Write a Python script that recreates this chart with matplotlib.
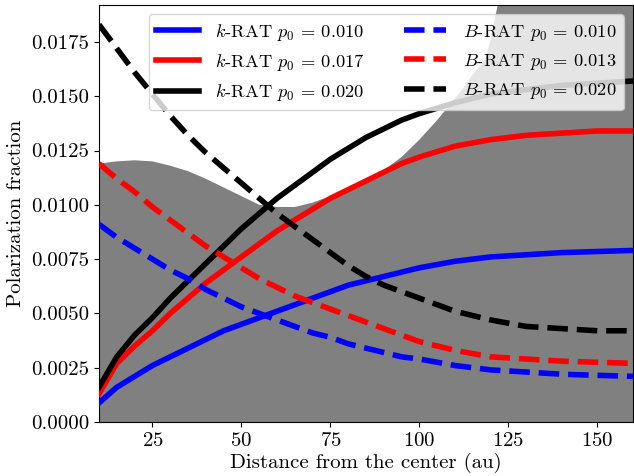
import numpy as np
import matplotlib
matplotlib.use("Agg")
import matplotlib.pyplot as plt

plt.rcParams.update({"font.family": "serif", "font.serif": ["cmr10"], "mathtext.fontset": "cm",
                     "axes.formatter.use_mathtext": True, "font.size": 15})

# distance from the center (au)
r = [10, 15, 20, 25, 30, 35, 40, 45, 50, 55, 60, 65, 70, 75, 80, 85, 90, 95, 100,
     110, 120, 130, 140, 150, 160]

# k-RAT curves
k010 = [0.00088, 0.0016, 0.0021, 0.0026, 0.0030, 0.0034, 0.0038, 0.0042, 0.0045, 0.0048, 0.0051,
        0.0054, 0.0057, 0.0060, 0.0063, 0.0065, 0.0067, 0.0069, 0.0071,
        0.0074, 0.0076, 0.0077, 0.0078, 0.00785, 0.0079]
k017 = [0.0013, 0.0027, 0.0035, 0.0042, 0.0050, 0.0057, 0.0064, 0.0070, 0.0076, 0.0082, 0.0088,
        0.0093, 0.0098, 0.0103, 0.0107, 0.0111, 0.0115, 0.0119, 0.0122,
        0.0127, 0.0130, 0.0132, 0.0133, 0.0134, 0.0134]
k020 = [0.0016, 0.0030, 0.0040, 0.0048, 0.0057, 0.0065, 0.0073, 0.0081, 0.0089, 0.0096, 0.0103,
        0.0109, 0.0115, 0.0121, 0.0126, 0.0131, 0.0135, 0.0139, 0.0142,
        0.0147, 0.0151, 0.0153, 0.0155, 0.0156, 0.0157]

# B-RAT curves
b010 = [0.0091, 0.0085, 0.0080, 0.0075, 0.0070, 0.0066, 0.0061, 0.0057, 0.0053, 0.0050, 0.0047,
        0.0044, 0.0041, 0.0039, 0.0036, 0.0034, 0.0032, 0.0030, 0.0029,
        0.0026, 0.0024, 0.0023, 0.0022, 0.00215, 0.0021]
b013 = [0.0119, 0.0112, 0.0106, 0.0099, 0.0093, 0.0087, 0.0081, 0.0076, 0.0071, 0.0066, 0.0062,
        0.0058, 0.0055, 0.0052, 0.0049, 0.0046, 0.0043, 0.0040, 0.0037,
        0.0033, 0.0030, 0.0029, 0.0028, 0.00275, 0.0027]
b020 = [0.0183, 0.0172, 0.0161, 0.0151, 0.0141, 0.0132, 0.0124, 0.0117, 0.0110, 0.0103, 0.0096,
        0.0090, 0.0084, 0.0078, 0.0072, 0.0067, 0.0063, 0.0060, 0.0057,
        0.0051, 0.0047, 0.0044, 0.0043, 0.0042, 0.0042]

# upper edge of the grey band
band_r = [10, 15, 20, 25, 30, 35, 40, 45, 50, 55, 60, 65, 70, 75, 80, 85, 90, 95, 100,
          105, 108, 112, 115, 118.5, 120, 122, 124, 160]
band_hi = [0.0119, 0.0120, 0.01205, 0.0120, 0.0118, 0.01155, 0.0112, 0.0108, 0.0104, 0.0100, 0.0099,
           0.0099, 0.0101, 0.0104, 0.0106, 0.0110, 0.0116, 0.0122, 0.0130,
           0.0139, 0.0145, 0.0153, 0.0160, 0.0167, 0.0176, 0.0192, 0.021, 0.03]

fig = plt.figure(figsize=(6.34, 4.76), dpi=100)
ax = fig.add_axes([99 / 634, 54 / 476, 534 / 634, 417 / 476])
ax.fill_between(band_r, 0, band_hi, color="grey", lw=0, zorder=1)

lw = 4
kw = dict(lw=lw, zorder=3, solid_joinstyle="round", dash_joinstyle="round")
ax.plot(r, k010, color="blue", label=r"$k$-RAT $p_0 \,=\, 0.010$", **kw)
ax.plot(r, k017, color="red", label=r"$k$-RAT $p_0 \,=\, 0.017$", **kw)
ax.plot(r, k020, color="black", label=r"$k$-RAT $p_0 \,=\, 0.020$", **kw)
ax.plot(r, b010, color="blue", ls="--", label=r"$B$-RAT $p_0 \,=\, 0.010$", **kw)
ax.plot(r, b013, color="red", ls="--", label=r"$B$-RAT $p_0 \,=\, 0.013$", **kw)
ax.plot(r, b020, color="black", ls="--", label=r"$B$-RAT $p_0 \,=\, 0.020$", **kw)

ax.set_xlim(10, 160)
ax.set_ylim(0, 0.0192)
ax.set_xticks([25, 50, 75, 100, 125, 150])
ax.set_yticks([0, 0.0025, 0.005, 0.0075, 0.01, 0.0125, 0.015, 0.0175])
ax.set_yticklabels(["0.0000", "0.0025", "0.0050", "0.0075", "0.0100", "0.0125", "0.0150", "0.0175"])
ax.set_xlabel("Distance from the center (au)", labelpad=2)
ax.set_ylabel("Polarization fraction")
ax.legend(loc="upper right", ncol=2, fontsize=13.3, handlelength=2.3, handletextpad=0.9,
          columnspacing=2.1)

fig.savefig("out.png", dpi=100)
